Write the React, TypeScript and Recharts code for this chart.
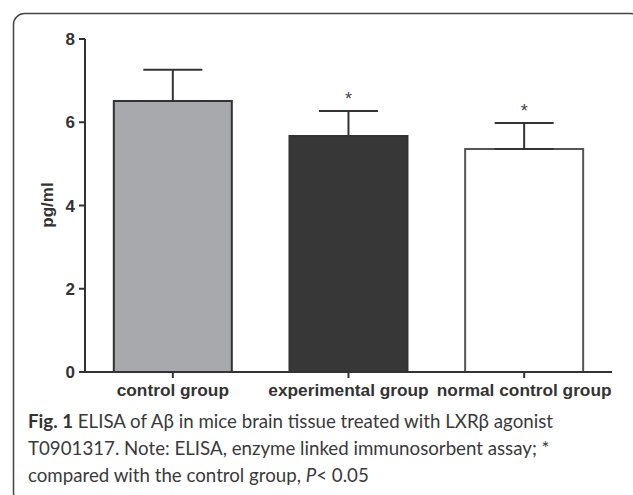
import React from 'react';
import { ComposedChart, Bar, Cell, ErrorBar, Scatter, XAxis, YAxis } from 'recharts';

// values
const groups = ['control group', 'experimental group', 'normal control group'];
const means = [6.51, 5.67, 5.36];
const sds = [0.75, 0.6, 0.62];
const significant = [false, true, true];
const yTicks = [0, 2, 4, 6, 8];

const fills = ['#a8a9ac', '#373737', '#ffffff'];
const strokes = ['#333333', '#333333', '#555555'];

const data = groups.map((g, i) => ({
  name: g,
  mean: means[i],
  err: [0, sds[i]],
  star: significant[i] ? means[i] + sds[i] : null,
}));

const FONT = '"Liberation Sans", Arial, Helvetica, sans-serif';
const CAPTION_FONT = 'Lato, "Open Sans", sans-serif';

const StarShape = (props: any) => {
  if (props.cx == null || props.cy == null || props.payload.star == null) return null;
  return (
    <text x={props.cx} y={props.cy - 6} textAnchor="middle" fontSize={18} fill="#444" fontFamily={FONT}>
      *
    </text>
  );
};

export default function App() {
  return (
    <div style={{ position: 'absolute', left: 0, top: 0, width: 633, height: 495, background: '#fff', overflow: 'hidden' }}>
      <ComposedChart
        width={633}
        height={495}
        data={data}
        margin={{ top: 39, right: 21, bottom: 93, left: 25 }}
        barCategoryGap="16.4%"
      >
        <XAxis
          dataKey="name"
          axisLine={{ stroke: '#333', strokeWidth: 2 }}
          tickLine={{ stroke: '#333', strokeWidth: 2 }}
          tickSize={6}
          tickMargin={6}
          tick={{ fill: '#333', fontSize: 17.3, fontWeight: 'bold', fontFamily: FONT }}
          interval={0}
        />
        <YAxis
          type="number"
          domain={[0, 8]}
          ticks={yTicks}
          width={60}
          axisLine={{ stroke: '#333', strokeWidth: 2 }}
          tickLine={{ stroke: '#333', strokeWidth: 2 }}
          tickSize={6}
          tickMargin={4}
          tick={{ fill: '#333', fontSize: 17, fontWeight: 'bold', fontFamily: FONT }}
          label={{
            content: () => (
              <text
                x={53}
                y={205}
                transform="rotate(-90 53 205)"
                textAnchor="middle"
                fontSize={17}
                fontWeight="bold"
                fill="#333"
                fontFamily={FONT}
              >
                pg/ml
              </text>
            ),
          }}
        />
        <Bar dataKey="mean" strokeWidth={2} isAnimationActive={false}>
          {data.map((d, i) => (
            <Cell key={d.name} fill={fills[i]} stroke={strokes[i]} />
          ))}
          <ErrorBar dataKey="err" width={29.5} stroke="#333" strokeWidth={2} direction="y" />
        </Bar>
        <Scatter dataKey="star" shape={<StarShape />} isAnimationActive={false} />
      </ComposedChart>

      <svg width={633} height={495} style={{ position: 'absolute', left: 0, top: 0, pointerEvents: 'none' }}>
        <rect x={13.5} y={13.5} width={628} height={490} rx={11} fill="none" stroke="#444" strokeWidth={1.5} />
        <text x={28} y={428} fontSize={18.7} fill="#3a3a3a" fontFamily={CAPTION_FONT}>
          <tspan fontWeight="bold" fill="#333">Fig. 1</tspan> ELISA of Aβ in mice brain tissue treated with LXRβ agonist
        </text>
        <text x={28} y={455} fontSize={18.7} fill="#3a3a3a" fontFamily={CAPTION_FONT}>
          T0901317. Note: ELISA, enzyme linked immunosorbent assay; *
        </text>
        <text x={28} y={482} fontSize={18.7} fill="#3a3a3a" fontFamily={CAPTION_FONT}>
          compared with the control group, <tspan fontStyle="italic">P</tspan>&lt; 0.05
        </text>
      </svg>
    </div>
  );
}
